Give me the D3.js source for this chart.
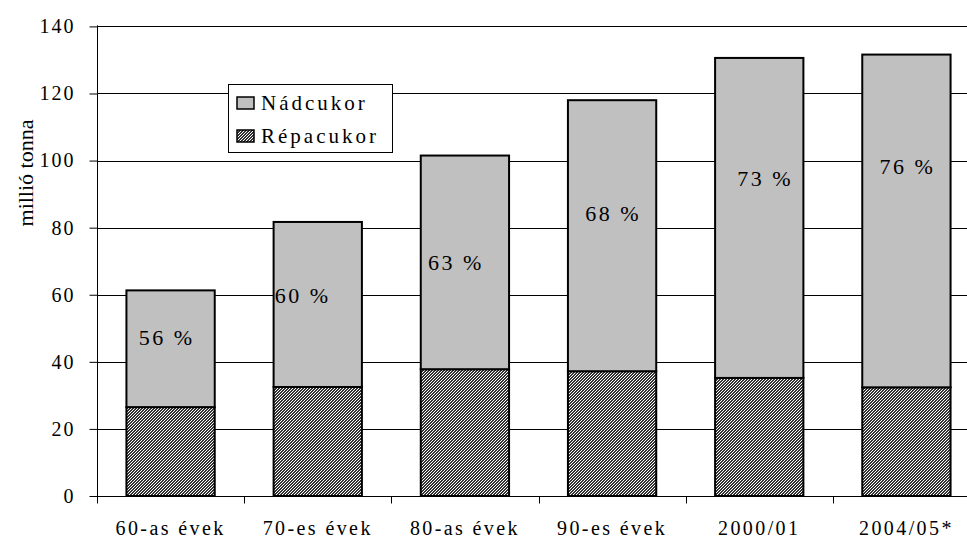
<!DOCTYPE html>
<html>
<head>
<meta charset="utf-8">
<script src="https://cdn.jsdelivr.net/npm/d3@7/dist/d3.min.js"></script>
<style>
  html, body { margin: 0; padding: 0; background: #fff; }
  svg { display: block; }
  text { font-family: "Liberation Serif", "Times New Roman", serif; fill: #000; }
</style>
</head>
<body>
<svg id="chart" width="967" height="537"></svg>
<script>
// Világ cukortermelése, millió tonna
const categories = ["60-as évek", "70-es évek", "80-as évek", "90-es évek", "2000/01", "2004/05*"];
const repacukor = [26.5, 32.5, 37.8, 37.2, 35.2, 32.4];
const nadcukor  = [34.8, 49.2, 63.7, 80.8, 95.4, 99.2];
const nadShare  = ["56 %", "60 %", "63 %", "68 %", "73 %", "76 %"];
const yTicks    = [0, 20, 40, 60, 80, 100, 120, 140];
const seriesNames = ["Nádcukor", "Répacukor"];

const svg = d3.select("#chart");
const W = 967;
const plotLeft = 97, plotRight = 980, plotTop = 26.4, plotBottom = 496;

// fine diagonal hatch for the beet sugar segments
const defs = svg.append("defs");
const pat = defs.append("pattern")
  .attr("id", "hatch").attr("patternUnits", "userSpaceOnUse")
  .attr("width", 3).attr("height", 3);
pat.append("rect").attr("width", 3).attr("height", 3).attr("fill", "#fff");
for (let px = 0; px < 3; px++) {
  for (let py = 0; py < 3; py++) {
    if ((px + py) % 3 < 2) {
      pat.append("rect").attr("x", px).attr("y", py).attr("width", 1).attr("height", 1).attr("fill", "#333");
    }
  }
}

const x = d3.scaleBand().domain(categories).range([plotLeft, plotRight])
  .paddingInner(0.4).paddingOuter(0.2);
const y = d3.scaleLinear().domain([0, 140]).range([plotBottom, plotTop]);

// gridlines
svg.append("g").selectAll("line").data(yTicks.filter(d => d > 0)).join("line")
  .attr("x1", plotLeft).attr("x2", W)
  .attr("y1", d => Math.round(y(d)) + 0.5).attr("y2", d => Math.round(y(d)) + 0.5)
  .attr("stroke", "#000").attr("stroke-width", 1);

// stacked bars
const rows = categories.map((c, i) => ({ c, repa: repacukor[i], nad: nadcukor[i], share: nadShare[i] }));
const stack = d3.stack().keys(["repa", "nad"])(rows);
const fills = { repa: "url(#hatch)", nad: "#c0c0c0" };

stack.forEach(layer => {
  svg.append("g").selectAll("rect").data(layer).join("rect")
    .attr("x", d => x(d.data.c))
    .attr("width", x.bandwidth())
    .attr("y", d => y(d[1]))
    .attr("height", d => y(d[0]) - y(d[1]))
    .attr("fill", fills[layer.key])
    .attr("stroke", "#000").attr("stroke-width", 2);
});

// share labels, nudged inside the cane sugar segment
const labelNudge = [[-4, -11], [-15, -9], [-9, 0], [1, -22], [6, -39], [1, -54]];
svg.append("g").selectAll("text").data(stack[1]).join("text")
  .attr("x", (d, i) => x(d.data.c) + x.bandwidth() / 2 + labelNudge[i][0])
  .attr("y", (d, i) => y((d[0] + d[1]) / 2) + labelNudge[i][1])
  .attr("text-anchor", "middle").attr("dominant-baseline", "central")
  .attr("font-size", 22).attr("letter-spacing", 2.5)
  .text(d => d.data.share);

// y axis
const yAxis = svg.append("g").attr("transform", `translate(${plotLeft + 0.5},0)`)
  .call(d3.axisLeft(y).tickValues(yTicks).tickSize(8).tickPadding(14).tickSizeOuter(0));
yAxis.select(".domain").attr("stroke", "#000").attr("d", `M0,${plotTop - 1}V${plotBottom + 7}`);
yAxis.selectAll(".tick line").attr("stroke", "#000");
yAxis.selectAll(".tick text")
  .attr("font-family", "Liberation Serif, serif").attr("font-size", 20)
  .attr("letter-spacing", 2).attr("fill", "#000");

// x axis
const xAxis = svg.append("g").attr("transform", `translate(0,${plotBottom + 0.5})`);
xAxis.append("line").attr("x1", plotLeft).attr("x2", W).attr("stroke", "#000");
const bounds = categories.map(c => x(c) - x.step() * x.paddingInner() / 2);
xAxis.selectAll(".xt").data(bounds).join("line").attr("class", "xt")
  .attr("x1", d => Math.round(d) + 0.5).attr("x2", d => Math.round(d) + 0.5)
  .attr("y1", 0).attr("y2", 7).attr("stroke", "#000");
xAxis.selectAll("text").data(categories).join("text")
  .attr("x", d => x(d) + x.bandwidth() / 2)
  .attr("y", 38)
  .attr("text-anchor", "middle")
  .attr("font-size", 20).attr("letter-spacing", 2.4)
  .text(d => d);

// y axis title
svg.append("text")
  .attr("transform", "translate(25,173) rotate(-90)")
  .attr("text-anchor", "middle").attr("dominant-baseline", "central")
  .attr("font-size", 22)
  .text("millió tonna");

// legend
const lg = svg.append("g");
lg.append("rect").attr("x", 228.5).attr("y", 84.5).attr("width", 164).attr("height", 68)
  .attr("fill", "#fff").attr("stroke", "#000");
const legendFill = ["#c0c0c0", "url(#hatch)"];
seriesNames.forEach((name, i) => {
  const cy = 103 + i * 33;
  lg.append("rect").attr("x", 237).attr("y", cy - 6).attr("width", 17).attr("height", 12)
    .attr("fill", legendFill[i]).attr("stroke", "#000").attr("stroke-width", 1.5);
  lg.append("text").attr("x", 261).attr("y", cy + 7)
    .attr("font-size", 21).attr("letter-spacing", 3)
    .text(name);
});
</script>
</body>
</html>
